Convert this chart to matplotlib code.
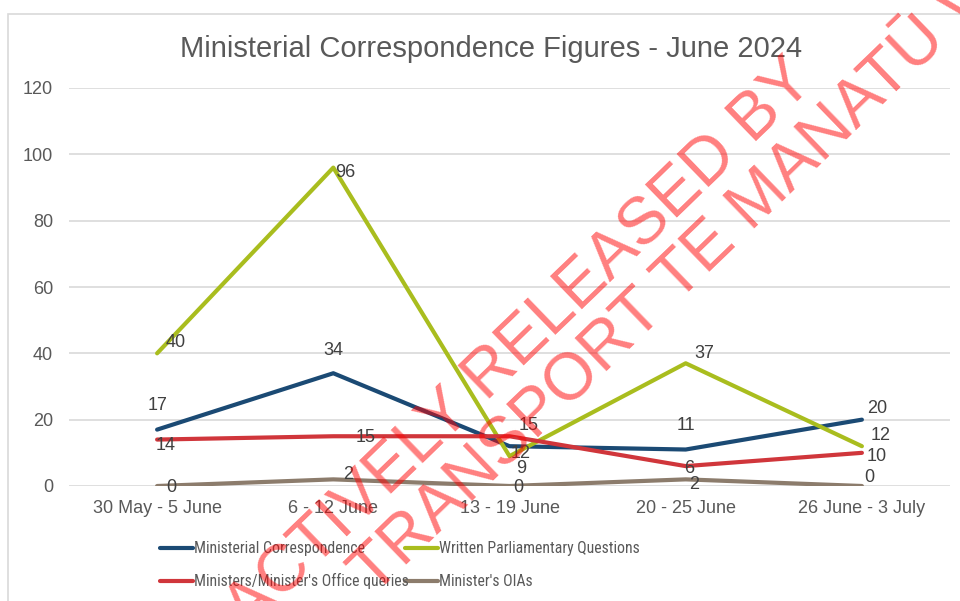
import matplotlib
matplotlib.use("Agg")
import matplotlib.pyplot as plt
from matplotlib import font_manager
from matplotlib.font_manager import FontProperties
from matplotlib.lines import Line2D
from matplotlib.patches import Rectangle

# ---- data ----
categories = ["30 May - 5 June", "6 - 12 June", "13 - 19 June", "20 - 25 June", "26 June - 3 July"]
ministerial_correspondence = [17, 34, 12, 11, 20]
written_pq = [40, 96, 9, 37, 12]
office_queries = [14, 15, 15, 6, 10]
ministers_oias = [0, 2, 0, 2, 0]
series_names = ["Ministerial Correspondence", "Written Parliamentary Questions",
                "Ministers/Minister's Office queries", "Minister's OIAs"]
y_ticks = [0, 20, 40, 60, 80, 100, 120]
title = "Ministerial Correspondence Figures - June 2024"
watermark_1 = "PROACTIVELY RELEASED BY"
watermark_2 = "TRANSPORT TE MANATŪ WAKA"

# ---- style ----
W, H = 960, 601
DPI = 100
colors = ["#1B4A74", "#A9BD1E", "#D0363B", "#8C7C6C"]
# data label offsets in pixels (dx right, dy down) -- layout only
label_offsets = [
    [(0, -26), (0, -25), (11, 5), (0, -26), (15, -13)],
    [(19, -13), (12, 3), (12, 10), (19, -12), (19, -13)],
    [(9, 4), (32, -1), (19, -13), (3, 0), (15, 2)],
    [(14, 0), (15, -7), (9, 0), (8, 3), (7, -11)],
]

avail = {f.name for f in font_manager.fontManager.ttflist}
base_font = "Liberation Sans" if "Liberation Sans" in avail else "DejaVu Sans"
plt.rcParams["font.family"] = [base_font, "DejaVu Sans"]

# look for a narrow sans font for the legend (the reference legend is condensed)
def _stretch_val(s):
    table = {"ultra-condensed": 100, "extra-condensed": 200, "condensed": 300,
             "semi-condensed": 400, "normal": 500}
    if isinstance(s, (int, float)):
        return s
    return table.get(str(s), 500)

best = None
for f in font_manager.fontManager.ttflist:
    nm = f.name
    if "Mono" in nm or "Serif" in nm or "CJK" in nm:
        continue
    if f.style != "normal" or f.weight not in (400, "normal", "regular", "book"):
        continue
    is_narrow = ("Narrow" in nm or "Condensed" in nm or _stretch_val(f.stretch) < 500)
    if not is_narrow:
        continue
    rank = 0 if "Liberation" in nm else (1 if "Roboto" in nm else (2 if "Open Sans" in nm else 3))
    if best is None or rank < best[0]:
        best = (rank, f.fname)
if best is not None:
    legend_prop = FontProperties(fname=best[1], size=11.3)
else:
    legend_prop = FontProperties(family=[base_font, "DejaVu Sans"], size=10.5)

fig = plt.figure(figsize=(W / DPI, H / DPI), dpi=DPI)
fig.patch.set_facecolor("white")

def fx(px):
    return px / W

def fy(py):
    return 1 - py / H

# chart border
fig.patches.append(Rectangle((fx(8), fy(700)), fx(1100), (700 - 14) / H,
                             transform=fig.transFigure, fill=False,
                             edgecolor="#D9D9D9", linewidth=1.2, zorder=0))

ax = fig.add_axes([fx(69), fy(486), fx(950) - fx(69), (486 - 88) / H])
ax.set_xlim(-0.5, len(categories) - 0.5)
ax.set_ylim(0, 120)
ax.set_facecolor("none")
for s in ax.spines.values():
    s.set_visible(False)
ax.set_yticks(y_ticks)
ax.set_yticklabels([str(v) for v in y_ticks])
ax.set_xticks(range(len(categories)))
ax.set_xticklabels(categories)
ax.tick_params(axis="y", length=0, pad=11.5, labelsize=13, labelcolor="#595959")
ax.tick_params(axis="x", length=0, pad=10, labelsize=13, labelcolor="#595959")
ax.grid(axis="y", color="#D9D9D9", linewidth=1.2)
ax.set_axisbelow(True)

all_series = [ministerial_correspondence, written_pq, office_queries, ministers_oias]
x = list(range(len(categories)))
for i, vals in enumerate(all_series):
    ax.plot(x, vals, color=colors[i], linewidth=3.0, solid_capstyle="round",
            solid_joinstyle="round", zorder=2 + i)

for i, vals in enumerate(all_series):
    for j, v in enumerate(vals):
        dx, dy = label_offsets[i][j]
        ax.annotate(str(v), (j, v), xytext=(dx, -dy - 6.5), textcoords="offset pixels",
                    ha="center", va="baseline", fontsize=13, color="#404040", zorder=10)

# title
fig.text(fx(491), fy(57), title, ha="center", va="baseline", fontsize=21, color="#595959")

# legend (manual, two rows)
legend_pos = [(160, 548), (405, 548), (160, 581), (405, 581)]
for i, (lx, ly) in enumerate(legend_pos):
    fig.add_artist(Line2D([fx(lx), fx(lx + 33)], [fy(ly), fy(ly)], transform=fig.transFigure,
                          color=colors[i], linewidth=3.0, solid_capstyle="round"))
    fig.text(fx(lx + 34), fy(ly), series_names[i], ha="left", va="center",
             color="#595959", fontproperties=legend_prop)

# watermark
for txt, (bx, by) in [(watermark_1, (481, 408)), (watermark_2, (736, 246))]:
    fig.text(fx(bx), fy(by), txt, rotation=44, rotation_mode="anchor",
             ha="center", va="baseline", fontsize=47.5, color="red", alpha=0.5, zorder=20)

fig.savefig("out.png", dpi=DPI)
